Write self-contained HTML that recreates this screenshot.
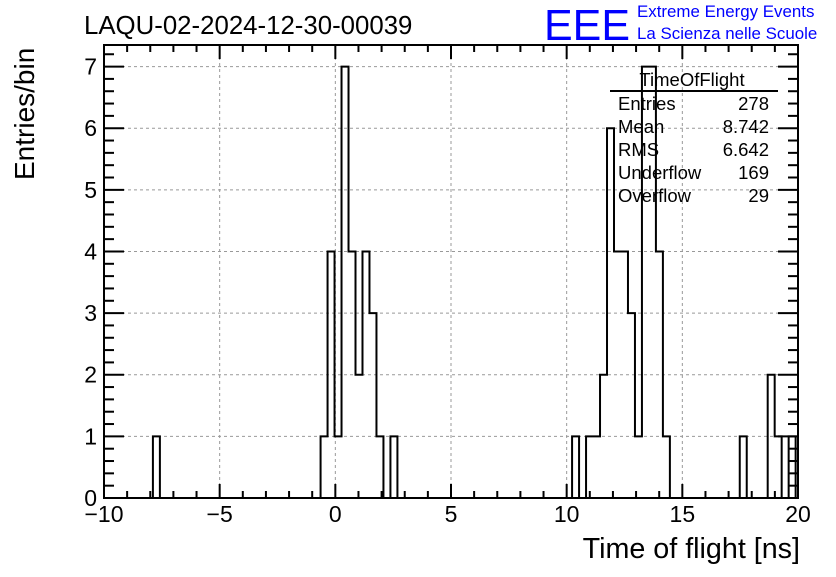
<!DOCTYPE html>
<html><head><meta charset="utf-8"><style>
body{margin:0;background:#fff;width:836px;height:572px;overflow:hidden}
svg{font-family:"Liberation Sans",sans-serif}
</style></head><body>
<svg id="c" width="836" height="572">
<defs><clipPath id="fr"><rect x="104" y="45" width="694" height="455"/></clipPath></defs>
<text x="84" y="34" font-size="25.8">LAQU-02-2024-12-30-00039</text>
<text x="544" y="40" font-size="44" fill="#0000ff" textLength="86" lengthAdjust="spacingAndGlyphs">EEE</text>
<text x="637" y="17" font-size="16.9" fill="#0000ff">Extreme Energy Events</text>
<text x="637" y="39" font-size="16.9" fill="#0000ff">La Scienza nelle Scuole</text>
<text x="800" y="558" font-size="28.7" text-anchor="end">Time of flight [ns]</text>
<text transform="translate(34,180) rotate(-90)" font-size="28" text-anchor="start">Entries/bin</text>
<g id="grid"></g><g id="hist" clip-path="url(#fr)"></g><g id="axes"></g>
<g font-size="18.5">
<text x="692" y="86" text-anchor="middle">TimeOfFlight</text>
<line x1="610" y1="91" x2="778" y2="91" stroke="#000" stroke-width="2"/>
<text x="618" y="110">Entries</text><text x="769" y="110" text-anchor="end">278</text>
<text x="618" y="133">Mean</text><text x="769" y="133" text-anchor="end">8.742</text>
<text x="618" y="156">RMS</text><text x="769" y="156" text-anchor="end">6.642</text>
<text x="618" y="179">Underflow</text><text x="769" y="179" text-anchor="end">169</text>
<text x="618" y="202">Overflow</text><text x="769" y="202" text-anchor="end">29</text>
</g>
</svg>
<script>
const binLow=-10, binWidth=0.302;
const counts=[0,0,0,0,0,0,0,1,0,0, 0,0,0,0,0,0,0,0,0,0, 0,0,0,0,0,0,0,0,0,0,
0,1,4,1,7,4,2,4,3,1, 0,1,0,0,0,0,0,0,0,0, 0,0,0,0,0,0,0,0,0,0,
0,0,0,0,0,0,0,1,0,1, 1,2,6,4,4,3,1,7,7,4, 1,0,0,0,0,0,0,0,0,0,
0,1,0,0,0,2,1,0,1,0];
const xTicks=[-10,-5,0,5,10,15,20];
const yTicks=[0,1,2,3,4,5,6,7];
const L=104,R=798,T=45,B=498,xmin=-10,xmax=20,ymax=7.35;
const X=v=>L+(v-xmin)/(xmax-xmin)*(R-L);
const Y=v=>B-v/ymax*(B-T);
const NS="http://www.w3.org/2000/svg";
function mk(tag,at,par){const e=document.createElementNS(NS,tag);for(const k in at)e.setAttribute(k,at[k]);document.getElementById(par).appendChild(e);return e;}
xTicks.forEach(v=>{if(v>xmin&&v<xmax){const g=mk('line',{x1:X(v),x2:X(v),y1:T,y2:B,stroke:'#999','stroke-dasharray':'3,3'},'grid');

}});
yTicks.forEach(v=>{if(v>0){const g=mk('line',{x1:L,x2:R,y1:Y(v),y2:Y(v),stroke:'#999','stroke-dasharray':'3,3'},'grid');

}});
let d='M'+X(binLow)+','+Y(0);
counts.forEach((c,i)=>{const x0=X(binLow+i*binWidth),x1=X(binLow+(i+1)*binWidth);d+=' L'+x0+','+Y(c)+' L'+x1+','+Y(c);});
d+=' L'+X(binLow+counts.length*binWidth)+','+Y(0);
const h=mk('path',{d:d,fill:'none',stroke:'#000','stroke-width':2},'hist');


const f=mk('rect',{x:L,y:T,width:R-L,height:B-T,fill:'none',stroke:'#000','stroke-width':2},'axes');


for(let v=xmin;v<=xmax+1e-9;v+=1){const major=Math.abs(v%5)<1e-9;
mk('line',{x1:X(v),x2:X(v),y1:B,y2:B-(major?14:7),stroke:'#000','stroke-width':2},'axes');
mk('line',{x1:X(v),x2:X(v),y1:T,y2:T+(major?14:7),stroke:'#000','stroke-width':2},'axes');}
xTicks.forEach(v=>{const t=mk('text',{x:X(v),y:522,'font-size':23,'text-anchor':'middle'},'axes');t.textContent=v<0?'\u2212'+(-v):v;

});
for(let v=0;v<=ymax;v+=0.2){const major=Math.abs(v-Math.round(v))<1e-6;
mk('line',{x1:L,x2:L+(major?20:10),y1:Y(v),y2:Y(v),stroke:'#000','stroke-width':2},'axes');
mk('line',{x1:R,x2:R-(major?20:10),y1:Y(v),y2:Y(v),stroke:'#000','stroke-width':2},'axes');}
yTicks.forEach(v=>{const t=mk('text',{x:97,y:Y(v)+8,'font-size':23,'text-anchor':'end'},'axes');t.textContent=v;

});
</script>
</body></html>
